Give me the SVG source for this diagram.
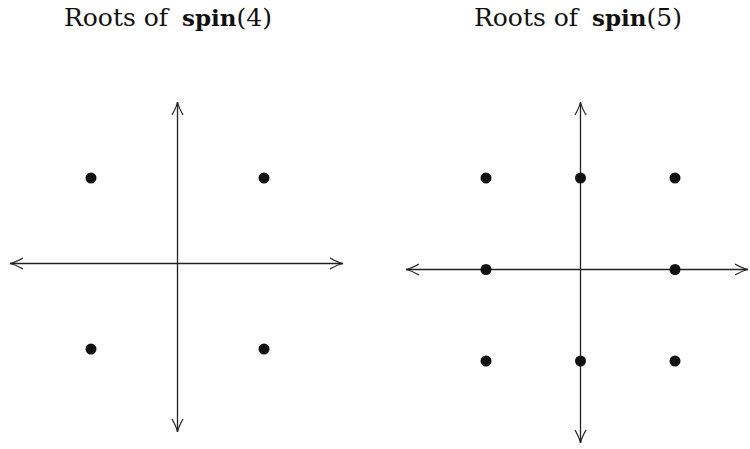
<svg xmlns="http://www.w3.org/2000/svg" width="750" height="449" viewBox="0 0 750 449">
<style>
.title{font-family:"DejaVu Serif","Liberation Serif",serif;font-size:25px;fill:#111;text-anchor:middle;}
.frak{font-weight:bold;font-size:23px;}
.axis{stroke:#222;stroke-width:1.3;fill:none;}
.dot{fill:#111;}
</style>
<defs>
<marker id="arr" markerUnits="userSpaceOnUse" markerWidth="16" markerHeight="14" refX="0" refY="0" viewBox="-13 -7 16 14" orient="auto-start-reverse">
<path d="M -13 -5.5 Q -5 -1 0 0 Q -5 1 -13 5.5" fill="none" stroke="#222" stroke-width="1.2"/>
</marker>
</defs>
<g id="title-left">
<text class="title" x="168" y="26">Roots of<tspan class="frak" dx="14">spin</tspan>(4)</text>
</g>
<g id="title-right">
<text class="title" x="578" y="26">Roots of<tspan class="frak" dx="14">spin</tspan>(5)</text>
</g>
<g id="connectors">
<line class="axis" x1="10" y1="263.5" x2="343" y2="263.5" marker-start="url(#arr)" marker-end="url(#arr)"/>
<line class="axis" x1="177.5" y1="102" x2="177.5" y2="432" marker-start="url(#arr)" marker-end="url(#arr)"/>
<line class="axis" x1="406" y1="269.5" x2="748" y2="269.5" marker-start="url(#arr)" marker-end="url(#arr)"/>
<line class="axis" x1="580.5" y1="102" x2="580.5" y2="443" marker-start="url(#arr)" marker-end="url(#arr)"/>
</g>
<g id="roots-spin4">
<circle class="dot" cx="91" cy="178" r="5.5"/>
<circle class="dot" cx="264" cy="178" r="5.5"/>
<circle class="dot" cx="91" cy="349" r="5.5"/>
<circle class="dot" cx="264" cy="349" r="5.5"/>
</g>
<g id="roots-spin5">
<circle class="dot" cx="486" cy="178" r="5.5"/>
<circle class="dot" cx="580.5" cy="178" r="5.5"/>
<circle class="dot" cx="675" cy="178" r="5.5"/>
<circle class="dot" cx="486" cy="269.5" r="5.5"/>
<circle class="dot" cx="675" cy="269.5" r="5.5"/>
<circle class="dot" cx="486" cy="361" r="5.5"/>
<circle class="dot" cx="580.5" cy="361" r="5.5"/>
<circle class="dot" cx="675" cy="361" r="5.5"/>
</g>
</svg>
